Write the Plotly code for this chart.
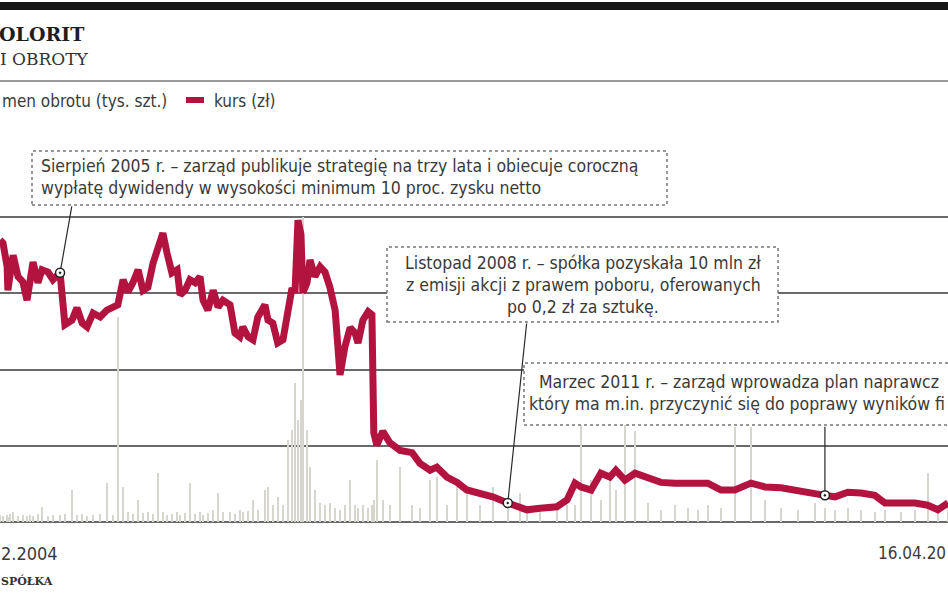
import plotly.graph_objects as go

# ---------------- data ----------------
dates = [
    "2005-03-08", "2005-03-16", "2005-03-27", "2005-03-29", "2005-04-04", "2005-04-12", "2005-04-25",
    "2005-05-08", "2005-05-19", "2005-05-27", "2005-06-04", "2005-06-17", "2005-06-28", "2005-07-14",
    "2005-07-27", "2005-08-15", "2005-08-28", "2005-09-16", "2005-09-29", "2005-10-13", "2005-10-26",
    "2005-11-11", "2005-11-30", "2005-12-18", "2006-01-03", "2006-01-16", "2006-01-30", "2006-02-12",
    "2006-02-25", "2006-03-11", "2006-03-24", "2006-04-06", "2006-04-20", "2006-05-03", "2006-05-16",
    "2006-05-27", "2006-06-09", "2006-06-23", "2006-07-01", "2006-07-14", "2006-07-27", "2006-08-10",
    "2006-08-23", "2006-08-31", "2006-09-13", "2006-09-27", "2006-10-10", "2006-10-23", "2006-11-11",
    "2006-11-24", "2006-12-07", "2006-12-15", "2006-12-29", "2007-01-11", "2007-01-24", "2007-02-12",
    "2007-02-20", "2007-03-05", "2007-03-18", "2007-04-01", "2007-04-14", "2007-04-25", "2007-05-03",
    "2007-05-11", "2007-05-19", "2007-05-24", "2007-06-04", "2007-06-12", "2007-06-25", "2007-07-09",
    "2007-07-22", "2007-08-04", "2007-08-18", "2007-08-31", "2007-09-13", "2007-09-27", "2007-10-10",
    "2007-10-18", "2007-10-31", "2007-11-14", "2007-11-24", "2007-11-29", "2007-12-07", "2007-12-23",
    "2008-01-11", "2008-02-07", "2008-03-10", "2008-03-31", "2008-04-27", "2008-05-15", "2008-06-11",
    "2008-07-08", "2008-08-03", "2008-09-07", "2008-10-11", "2008-11-20", "2008-12-22", "2009-01-10",
    "2009-02-14", "2009-03-31", "2009-04-27", "2009-05-18", "2009-06-03", "2009-06-30", "2009-07-26",
    "2009-08-19", "2009-09-04", "2009-09-28", "2009-10-25", "2009-11-28", "2010-01-02", "2010-02-08",
    "2010-03-15", "2010-04-11", "2010-05-07", "2010-06-11", "2010-07-18", "2010-08-30", "2010-10-06",
    "2010-11-18", "2011-01-02", "2011-02-16", "2011-03-15", "2011-04-11", "2011-05-15", "2011-06-19",
    "2011-07-26", "2011-08-22", "2011-10-03", "2011-11-10", "2011-12-14", "2012-01-10", "2012-02-06",
]

kurs = [
    3.70, 3.66, 3.35, 3.04, 3.24, 3.50, 3.22,
    3.15, 2.91, 3.11, 3.41, 3.14, 3.31, 3.28,
    3.18, 3.27, 2.59, 2.65, 2.81, 2.61, 2.56,
    2.74, 2.69, 2.78, 2.81, 2.85, 3.18, 3.02,
    3.14, 3.31, 3.04, 3.08, 3.40, 3.57, 3.79,
    3.53, 3.27, 3.31, 2.98, 3.04, 3.18, 3.14,
    3.22, 2.91, 2.78, 3.04, 2.82, 2.91, 2.85,
    2.48, 2.43, 2.56, 2.43, 2.39, 2.69, 2.85,
    2.65, 2.61, 2.35, 2.39, 2.74, 3.07, 3.01,
    3.96, 3.77, 3.01, 3.14, 3.44, 3.22, 3.35,
    3.28, 3.08, 2.78, 1.93, 2.30, 2.55, 2.48,
    2.35, 2.65, 2.76, 2.72, 1.17, 1.01, 1.19,
    1.04, 0.94, 0.91, 0.77, 0.68, 0.72, 0.59,
    0.52, 0.42, 0.38, 0.33, 0.25, 0.18, 0.16,
    0.18, 0.20, 0.29, 0.51, 0.46, 0.42, 0.64,
    0.59, 0.68, 0.55, 0.64, 0.59, 0.52, 0.51,
    0.51, 0.52, 0.51, 0.42, 0.42, 0.51, 0.46,
    0.45, 0.42, 0.38, 0.35, 0.33, 0.39, 0.38,
    0.35, 0.25, 0.25, 0.25, 0.22, 0.16, 0.25,
]

wolumen = [
    18, 16, 18, 13, 21, 26, 16,
    18, 16, 18, 16, 21, 39, 16,
    18, 18, 21, 84, 18, 21, 16,
    18, 21, 102, 18, 538, 92, 26,
    21, 58, 24, 26, 21, 129, 26,
    18, 21, 26, 18, 24, 102, 21,
    26, 18, 24, 32, 76, 26, 26,
    21, 32, 26, 29, 58, 32, 84,
    92, 45, 66, 45, 215, 242, 365,
    268, 320, 801, 242, 144, 84, 50,
    45, 50, 37, 32, 45, 110, 45,
    37, 45, 37, 45, 58, 163, 58,
    45, 144, 45, 37, 110, 118, 45,
    92, 84, 45, 92, 45, 76, 37,
    45, 37, 45, 45, 255, 110, 58,
    129, 84, 255, 240, 50, 32, 45,
    37, 32, 45, 37, 249, 249, 58,
    37, 32, 50, 37, 32, 37, 32,
    26, 32, 26, 32, 129, 45, 58,
]

event_dates = ["2005-08-15", "2008-11-20", "2011-03-15"]
event_kurs = [3.27, 0.25, 0.35]

# ---------------- layout helpers ----------------
W, H = 948, 593
TOP, BOT = 141, 522


def px(x):
    return x / W


def py(y):
    return (BOT - y) / (BOT - TOP)


NARROW = "DejaVu Sans Condensed, Liberation Sans Narrow, Arial Narrow, sans-serif"
SERIF = "DejaVu Serif, serif"
TXT = "#3a3a3a"
RED = "#b3143f"
GRID = "#6a6a6a"

fig = go.Figure()

fig.add_trace(go.Bar(
    x=dates, y=wolumen, yaxis="y",
    marker=dict(color="#d6d6cf", line=dict(width=0)),
    width=2.6e8, showlegend=False, hoverinfo="skip",
))

fig.add_trace(go.Scatter(
    x=dates, y=kurs, yaxis="y2", mode="lines",
    line=dict(color=RED, width=7), showlegend=False,
))

fig.add_trace(go.Scatter(
    x=event_dates, y=event_kurs, yaxis="y2", mode="markers",
    marker=dict(symbol="circle-dot", size=9, color="white",
                line=dict(color="#222", width=1.5)),
    showlegend=False,
))

shapes = []
# top black band
shapes.append(dict(type="rect", xref="paper", yref="paper", x0=0, x1=1,
                   y0=py(10), y1=py(2), fillcolor="#161616", line=dict(width=0), layer="above"))
# separator under title
shapes.append(dict(type="line", xref="paper", yref="paper", x0=0, x1=1,
                   y0=py(81), y1=py(81), line=dict(color="#777", width=1.5)))
# legend red swatch
shapes.append(dict(type="line", xref="paper", yref="paper", x0=px(186), x1=px(204),
                   y0=py(100), y1=py(100), line=dict(color=RED, width=6)))
# annotation boxes
for (x0, x1, y0, y1) in [(32, 667, 151, 205), (387, 778, 247, 322), (524, 990, 363, 425)]:
    shapes.append(dict(type="rect", xref="paper", yref="paper",
                       x0=px(x0), x1=px(x1), y0=py(y1), y1=py(y0),
                       fillcolor="white", line=dict(color="#777", width=1.5, dash="dot"),
                       layer="above"))

ann = []


def text(t, x, y, size, family=NARROW, color=TXT, xanchor="left"):
    ann.append(dict(text=t, x=px(x), y=py(y), xref="paper", yref="paper",
                    xanchor=xanchor, yanchor="middle", showarrow=False,
                    font=dict(family=family, size=size, color=color)))


BOX = 17.5
text("<b>OLORIT</b>", -3, 34, 19, SERIF, "#1e1e1e")
text("I OBROTY", -2, 59, 17, SERIF, "#333")
text("men obrotu (tys. szt.)", 0, 101, 17)
text("kurs (zł)", 212, 101, 17)

text("Sierpień 2005 r. – zarząd publikuje strategię na trzy lata i obiecuje coroczną", 39, 166, BOX)
text("wypłatę dywidendy w wysokości minimum 10 proc. zysku netto", 39, 188, BOX)

text("Listopad 2008 r. – spółka pozyskała 10 mln zł", 583, 263, BOX, xanchor="center")
text("z emisji akcji z prawem poboru, oferowanych", 583, 285, BOX, xanchor="center")
text("po 0,2 zł za sztukę.", 583, 307, BOX, xanchor="center")

text("Marzec 2011 r. – zarząd wprowadza plan naprawcz", 537, 382, BOX)
text("który ma m.in. przyczynić się do poprawy wyników fi", 527, 404, BOX)

text("2.2004", -1, 553, 18)
text("16.04.20", 948, 553, 17, xanchor="right")
text("<b>SPÓŁKA</b>", -1, 581, 11, SERIF, "#333")

# leader lines from event points to boxes
for d, k, ax, ay in zip(event_dates, event_kurs, [12, 19, 0], [-68, -181, -70]):
    ann.append(dict(x=d, y=k, xref="x", yref="y2", text="", showarrow=True,
                    ax=ax, ay=ay, arrowhead=0, arrowwidth=1.2, arrowcolor="#2a2a2a",
                    standoff=4))

fig.update_layout(
    width=W, height=H,
    margin=dict(l=0, r=0, t=TOP, b=H - BOT, pad=0),
    paper_bgcolor="white", plot_bgcolor="white",
    showlegend=False, bargap=0,
    xaxis=dict(type="date", range=["2005-03-08", "2012-02-06"], showgrid=False,
               showticklabels=False, zeroline=False, showline=False, ticks=""),
    yaxis=dict(range=[0, 1000], dtick=200, tick0=0, showgrid=True, gridcolor=GRID,
               gridwidth=1.6, showticklabels=False, zeroline=True, zerolinecolor=GRID,
               zerolinewidth=2, showline=False, ticks=""),
    yaxis2=dict(range=[0, 5], overlaying="y", showgrid=False, showticklabels=False,
                zeroline=False, showline=False, ticks=""),
    shapes=shapes, annotations=ann,
)

fig.write_html("out.html", config={"displayModeBar": False},
               post_script="document.body.style.margin='0';")
